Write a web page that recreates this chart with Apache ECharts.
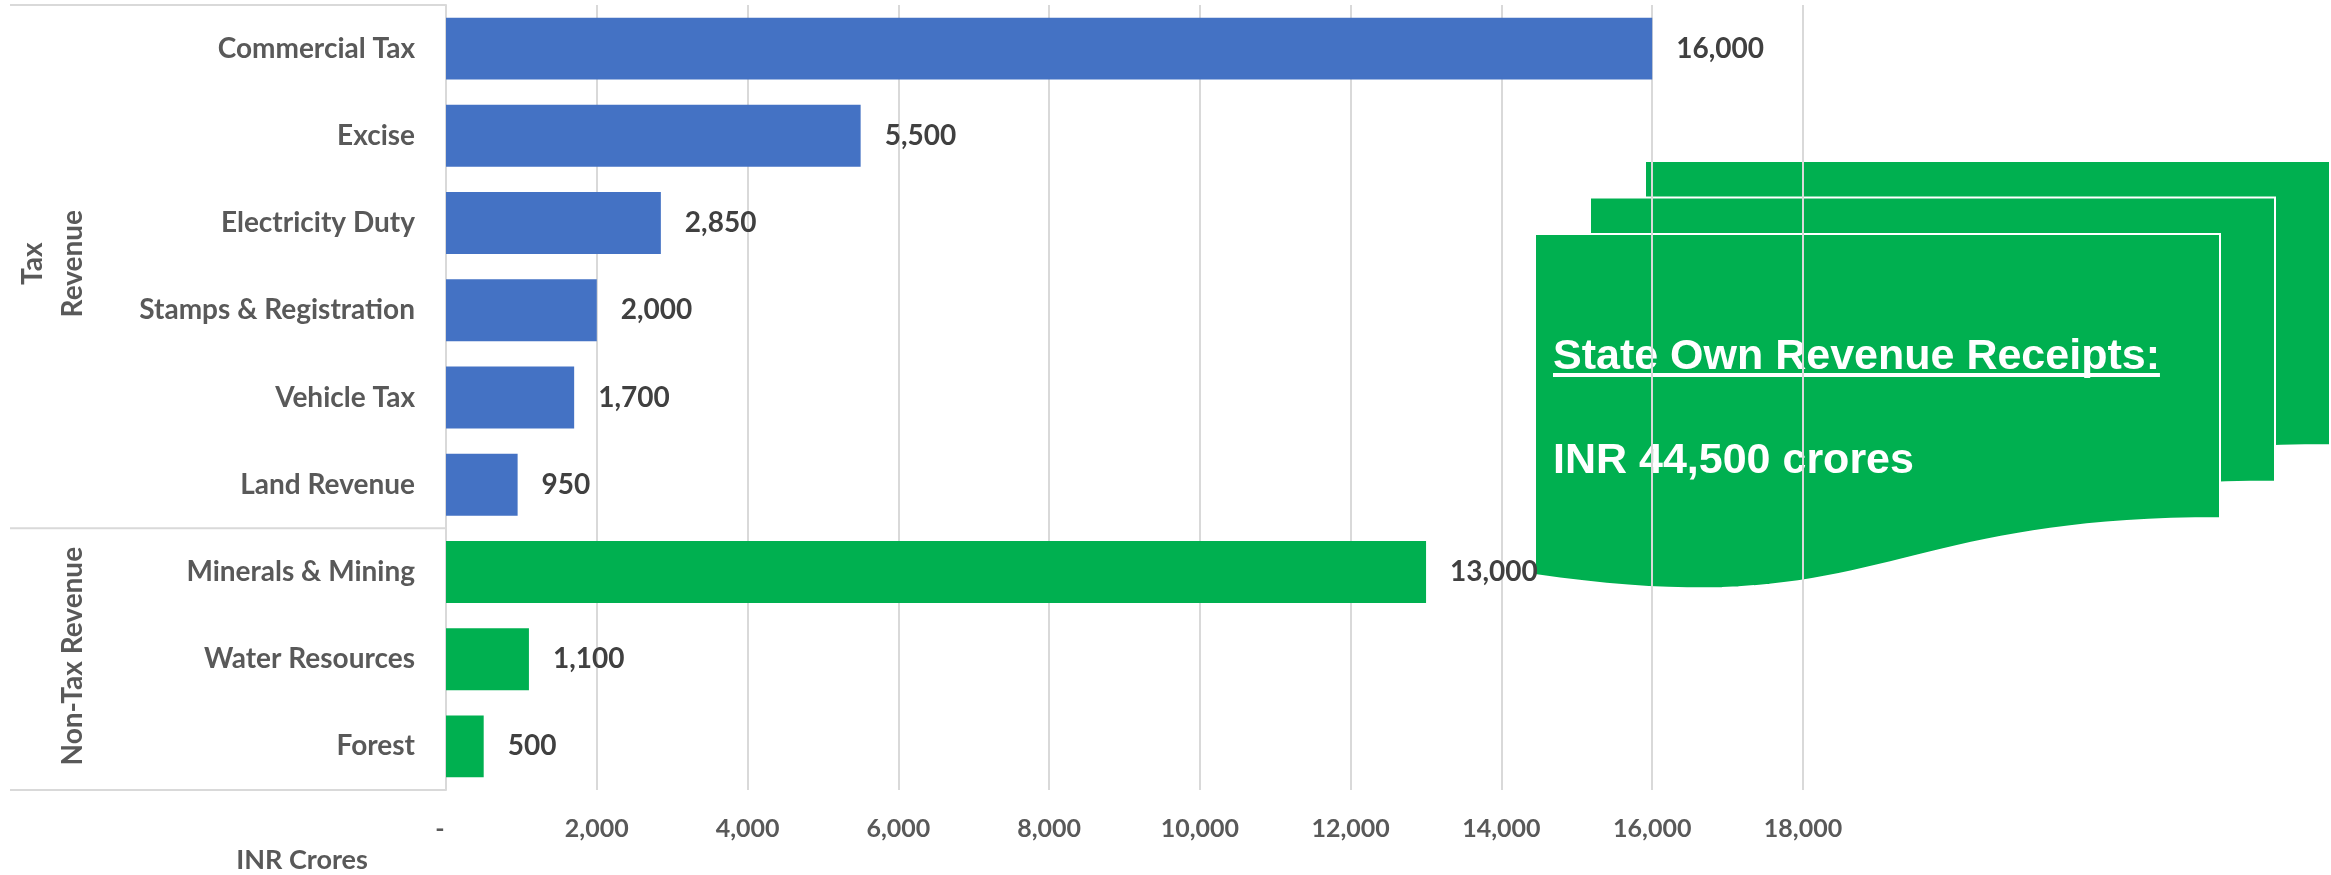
<!DOCTYPE html>
<html>
<head>
<meta charset="utf-8">
<script src="https://cdn.jsdelivr.net/npm/echarts@6/dist/echarts.min.js"></script>
<style>
  html, body { margin: 0; padding: 0; background: #fff; }
  #main { width: 2331px; height: 875px; }
</style>
</head>
<body>
<div id="main"></div>
<script>
// data
const categories = ['Commercial Tax', 'Excise', 'Electricity Duty', 'Stamps & Registration', 'Vehicle Tax',
  'Land Revenue', 'Minerals & Mining', 'Water Resources', 'Forest'];
const values = [16000, 5500, 2850, 2000, 1700, 950, 13000, 1100, 500];
const groups = ['tax', 'tax', 'tax', 'tax', 'tax', 'tax', 'nontax', 'nontax', 'nontax'];
const groupNames = { tax: 'Tax\nRevenue', nontax: 'Non-Tax Revenue' };
const groupColors = { tax: '#4472C4', nontax: '#00B050' };
const xMax = 18000;
const xStep = 2000;
const calloutTitle = 'State Own Revenue Receipts:';
const calloutValue = 'INR 44,500 crores';

const FONT = 'Lato, "Open Sans", sans-serif';
const chart = echarts.init(document.getElementById('main'));

const fmt = v => v === 0 ? '-  ' : v.toLocaleString('en-US');

chart.setOption({
  backgroundColor: '#ffffff',
  animation: false,
  grid: { left: 446, top: 5, right: 528, bottom: 85, containLabel: false },
  xAxis: {
    type: 'value',
    min: 0, max: xMax, interval: xStep,
    axisLine: { show: false },
    axisTick: { show: false },
    splitLine: { lineStyle: { color: '#d9d9d9', width: 2 } },
    axisLabel: { formatter: fmt, color: '#595959', fontSize: 25, fontWeight: 'bold', fontFamily: FONT, margin: 26 }
  },
  yAxis: {
    type: 'category',
    inverse: true,
    data: categories,
    axisLine: { lineStyle: { color: '#d9d9d9', width: 2 } },
    axisTick: { show: false },
    axisLabel: { color: '#595959', fontSize: 28, fontWeight: 'bold', fontFamily: FONT, margin: 31 }
  },
  series: [{
    type: 'bar',
    barWidth: '71%',
    data: values.map((v, i) => ({ value: v, itemStyle: { color: groupColors[groups[i]] } })),
    label: {
      show: true, position: 'right', distance: 24,
      formatter: p => fmt(p.value),
      color: '#404040', fontSize: 28, fontWeight: 'bold', fontFamily: FONT
    },
    z: 3
  }]
});

// hierarchical category axis decorations, placed from the axis scale
const c0 = chart.convertToPixel({ yAxisIndex: 0 }, 0);
const c1 = chart.convertToPixel({ yAxisIndex: 0 }, 1);
const band = c1 - c0;
const axisX = chart.convertToPixel({ xAxisIndex: 0 }, 0);
const groupSpans = [];
let start = 0;
for (let i = 1; i <= categories.length; i++) {
  if (i === categories.length || groups[i] !== groups[start]) {
    groupSpans.push({ key: groups[start], from: start, to: i - 1 });
    start = i;
  }
}
const graphics = [];
const lineY = [c0 - band / 2];
groupSpans.forEach(g => lineY.push(chart.convertToPixel({ yAxisIndex: 0 }, g.to) + band / 2));
lineY.forEach(y => graphics.push({
  type: 'line', z: 10,
  shape: { x1: 10, y1: y, x2: axisX, y2: y },
  style: { stroke: '#d9d9d9', lineWidth: 2 }
}));
groupSpans.forEach(g => {
  const yc = (chart.convertToPixel({ yAxisIndex: 0 }, g.from) + chart.convertToPixel({ yAxisIndex: 0 }, g.to)) / 2;
  const txt = groupNames[g.key];
  const twoLines = txt.indexOf('\n') >= 0;
  graphics.push({
    type: 'text', z: 10,
    x: twoLines ? 53 : 73, y: yc - 3, rotation: Math.PI / 2,
    style: { text: txt, align: 'center', verticalAlign: 'middle', fill: '#595959',
      font: 'bold 28px ' + FONT, lineHeight: 40 }
  });
});
graphics.push({
  type: 'text', z: 10, x: 302, y: 860,
  style: { text: 'INR Crores', align: 'center', verticalAlign: 'middle', fill: '#595959', font: 'bold 27px ' + FONT }
});

// callout: stacked "multi document" shape
function docPoints(l, t, w) {
  const yR = t + 284, yL = t + 341, c2y = t + 391;
  const pts = [[l, t], [l + w, t], [l + w, yR]];
  const p0 = [l + w, yR], p1 = [l + w / 2, yR], p2 = [l + w / 2, c2y], p3 = [l, yL];
  for (let k = 1; k <= 40; k++) {
    const s = k / 40, u = 1 - s;
    pts.push([
      u * u * u * p0[0] + 3 * u * u * s * p1[0] + 3 * u * s * s * p2[0] + s * s * s * p3[0],
      u * u * u * p0[1] + 3 * u * u * s * p1[1] + 3 * u * s * s * p2[1] + s * s * s * p3[1]
    ]);
  }
  return pts;
}
[[1645, 161], [1590, 197.5], [1535, 234]].forEach(([l, t]) => graphics.push({
  type: 'polygon', z: -1,
  shape: { points: docPoints(l, t, 685) },
  style: { fill: '#00B050', stroke: '#ffffff', lineWidth: 2 }
}));
const calloutFont = 'bold 43px "Liberation Sans", Arial, sans-serif';
const ctx = document.createElement('canvas').getContext('2d');
ctx.font = calloutFont;
const titleW = ctx.measureText(calloutTitle).width;
graphics.push({
  type: 'text', z: -1, x: 1553, y: 357,
  style: { text: calloutTitle, align: 'left', verticalAlign: 'middle', fill: '#ffffff', font: calloutFont }
});
graphics.push({
  type: 'rect', z: -1,
  shape: { x: 1553, y: 373, width: titleW, height: 4 },
  style: { fill: '#ffffff' }
});
graphics.push({
  type: 'text', z: -1, x: 1553, y: 461,
  style: { text: calloutValue, align: 'left', verticalAlign: 'middle', fill: '#ffffff', font: calloutFont }
});

chart.setOption({ graphic: graphics });
</script>
</body>
</html>
